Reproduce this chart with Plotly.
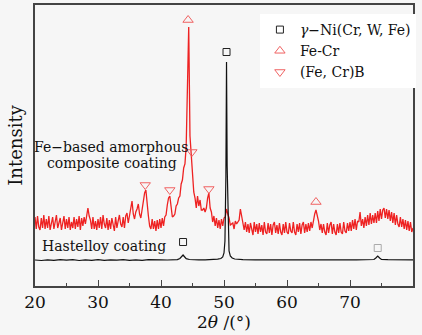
import numpy as np
import plotly.graph_objects as go

# XRD patterns, intensity in arbitrary units
# Fe-based amorphous composite coating: step scan 20-80 deg, 0.2 deg step
red_start, red_step = 20.0, 0.2
red_counts = [
    69, 57, 70, 59, 56, 68, 58, 71, 57, 67,   # 20.0-21.8
    58, 70, 56, 64, 69, 57, 66, 71, 58, 65,   # 22.0-23.8
    68, 56, 63, 70, 57, 67, 58, 69, 56, 64,   # 24.0-25.8
    58, 69, 57, 67, 59, 70, 56, 68, 60, 69,   # 26.0-27.8
    62, 72, 78, 70, 66, 57, 69, 57, 65, 56,   # 28.0-29.8
    67, 58, 69, 57, 71, 62, 58, 68, 56, 66,   # 30.0-31.8
    57, 68, 60, 55, 69, 58, 65, 71, 62, 59,   # 32.0-33.8
    69, 58, 70, 73, 63, 72, 79, 85, 72, 67,   # 34.0-35.8
    74, 77, 82, 72, 68, 77, 81, 93, 96, 78,   # 36.0-37.8
    70, 60, 57, 67, 57, 65, 55, 66, 57, 67,   # 38.0-39.8
    58, 68, 60, 69, 71, 81, 88, 90, 76, 69,   # 40.0-41.8
    70, 72, 80, 82, 88, 90, 102, 106, 118, 122,  # 42.0-43.8
    140, 196, 259, 150, 128, 118, 94, 88, 78, 90,  # 44.0-45.8
    80, 86, 76, 76, 78, 74, 78, 88, 93, 78,   # 46.0-47.8
    74, 64, 70, 60, 68, 58, 66, 57, 67, 60,   # 48.0-49.8
    68, 69, 77, 72, 68, 61, 62, 63, 57, 65,   # 50.0-51.8
    62, 64, 66, 77, 70, 64, 56, 64, 54, 62,   # 52.0-53.8
    53, 63, 55, 51, 64, 54, 62, 52, 63, 54,   # 54.0-55.8
    61, 51, 64, 54, 52, 63, 53, 62, 51, 61,   # 56.0-57.8
    64, 53, 61, 52, 63, 54, 51, 62, 53, 64,   # 58.0-59.8
    54, 52, 63, 55, 53, 64, 54, 51, 62, 54,   # 60.0-61.8
    63, 52, 61, 64, 53, 62, 54, 63, 55, 64,   # 62.0-63.8
    58, 67, 72, 76, 71, 65, 56, 62, 53, 62,   # 64.0-65.8
    54, 51, 63, 53, 61, 64, 52, 62, 54, 51,   # 66.0-67.8
    62, 53, 63, 54, 52, 64, 55, 53, 63, 55,   # 68.0-69.8
    64, 55, 66, 57, 67, 56, 65, 64, 74, 60,   # 70.0-71.8
    67, 58, 69, 60, 71, 61, 73, 62, 71, 63,   # 72.0-73.8
    73, 63, 75, 65, 77, 67, 76, 78, 68, 77,   # 74.0-75.8
    67, 76, 65, 74, 63, 73, 61, 71, 62, 59,   # 76.0-77.8
    69, 59, 67, 57, 66, 56, 65, 55, 64, 54,   # 78.0-79.8
    58,                                       # 80.0
]
red_2theta = red_start + red_step * np.arange(len(red_counts))

# Hastelloy coating
black_2theta = [20, 21, 22, 23, 24, 25, 26, 27, 28, 29, 30, 31, 32, 33, 34, 35,
                36, 37, 38, 39, 40, 41, 42, 42.6, 43.0, 43.3, 43.5, 43.7, 44.0,
                44.5, 45, 46, 47, 48, 49, 49.5, 49.8, 50.0, 50.15, 50.3, 50.4,
                50.5, 50.65, 50.8, 51.0, 51.3, 51.7, 52.2, 53, 55, 57, 59, 61,
                63, 65, 67, 69, 71, 73, 73.8, 74.1, 74.4, 74.7, 75.0, 76, 77,
                78, 79, 80]
black_counts = [26.0, 25.5, 26.2, 25.6, 26.4, 25.8, 26.3, 25.5, 26.1, 25.7,
                26.3, 25.6, 26.2, 25.8, 26.4, 25.6, 26.1, 25.7, 26.3, 25.9,
                26.2, 26.0, 26.1, 26.4, 27.5, 30.0, 31.0, 29.5, 27.3, 26.5,
                26.2, 26.1, 26.2, 26.4, 26.8, 27.5, 29.0, 33.0, 45.0, 110.0,
                224.0, 120.0, 50.0, 35.0, 30.0, 28.0, 27.0, 26.5, 26.3, 26.2,
                26.1, 26.2, 26.1, 26.2, 26.1, 26.2, 26.1, 26.2, 26.2, 26.5,
                28.0, 30.0, 28.0, 26.6, 26.3, 26.2, 26.1, 26.2, 26.2]

# Phase identification markers (2theta, marker height)
ni_2theta = [43.5, 50.4, 74.4]
ni_height = [44, 234, 38]
fecr_2theta = [44.3, 64.6]
fecr_height = [266, 84]
fecrb_2theta = [37.5, 41.4, 44.9, 47.6]
fecrb_height = [101, 96, 134, 97]

SERIF = "DejaVu Serif"
RED = "#ee2222"
MARK_RED = "#f06262"

fig = go.Figure()
fig.add_trace(go.Scatter(x=red_2theta, y=red_counts, mode="lines",
                         line=dict(color=RED, width=1.3), showlegend=False,
                         hoverinfo="skip"))
fig.add_trace(go.Scatter(x=black_2theta, y=black_counts, mode="lines",
                         line=dict(color="#111111", width=1.2),
                         showlegend=False, hoverinfo="skip"))
fig.add_trace(go.Scatter(x=ni_2theta, y=ni_height, mode="markers",
                         name="<i>γ</i>−Ni(Cr, W, Fe)",
                         marker=dict(symbol="square-open", size=7,
                                     color=["#222222", "#222222", "#aaaaaa"],
                                     line=dict(width=1))))
fig.add_trace(go.Scatter(x=fecr_2theta, y=fecr_height, mode="markers",
                         name="Fe-Cr",
                         marker=dict(symbol="triangle-up-open", size=9,
                                     color=MARK_RED, line=dict(width=1))))
fig.add_trace(go.Scatter(x=fecrb_2theta, y=fecrb_height, mode="markers",
                         name="(Fe, Cr)B",
                         marker=dict(symbol="triangle-down-open", size=9,
                                     color=MARK_RED, line=dict(width=1))))

label_font = dict(family=SERIF, size=14, color="#111")
fig.add_annotation(x=32.2, y=139, xref="x", yref="y", text="Fe−based amorphous",
                   showarrow=False, font=label_font)
fig.add_annotation(x=32.3, y=123, xref="x", yref="y", text="composite coating",
                   showarrow=False, font=label_font)
fig.add_annotation(x=31.0, y=40, xref="x", yref="y", text="Hastelloy coating",
                   showarrow=False, font=label_font)

axis_line = dict(showline=True, mirror=True, linecolor="#444444", linewidth=1.5,
                 showgrid=False, zeroline=False, automargin=False)

fig.update_layout(
    template="none",
    width=422, height=335,
    margin=dict(l=35, r=9, t=5, b=49),
    paper_bgcolor="#f6f6f6", plot_bgcolor="#f6f6f6",
    font=dict(family=SERIF, size=16, color="#111"),
    xaxis=dict(range=[20, 80], dtick=10, tick0=20, ticks="inside", ticklen=6,
               tickwidth=1.2, tickcolor="#444444",
               minor=dict(dtick=5, ticks="inside", ticklen=3, tickcolor="#444444"),
               tickfont=dict(family=SERIF, size=17),
               title=dict(text="2<i>θ</i> /(°)", font=dict(family=SERIF, size=17),
                          standoff=4),
               **axis_line),
    yaxis=dict(range=[0, 281], showticklabels=False, ticks="",
               title=dict(text="Intensity", font=dict(family=SERIF, size=18),
                          standoff=6),
               **axis_line),
    legend=dict(x=0.595, y=0.968, xanchor="left", yanchor="top",
                bgcolor="white", borderwidth=0,
                font=dict(family=SERIF, size=14, color="#111")),
    showlegend=True,
)

fig.write_html("out.html")
